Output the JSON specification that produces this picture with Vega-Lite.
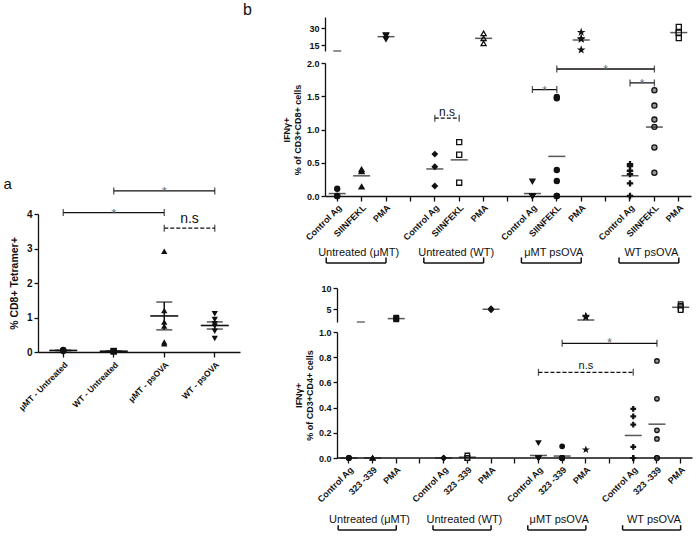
{
"$schema": "https://vega.github.io/schema/vega-lite/v6.json",
"background": "white",
"padding": {"left": 3, "top": 2, "right": 0, "bottom": 0},
"config": {
  "font": "Liberation Sans",
  "view": {"stroke": null},
  "axis": {"domainColor": "#111", "tickColor": "#111", "labelColor": "#111", "titleColor": "#111", "domainWidth": 1.3, "tickWidth": 1.3, "tickSize": 4, "grid": false, "labelFontWeight": "bold", "titleFontWeight": "bold", "labelFont": "Liberation Sans", "titleFont": "Liberation Sans", "labelOverlap": false},
  "title": {"fontWeight": "normal", "fontSize": 16, "anchor": "start", "font": "Liberation Sans", "color": "#111"}
},
"datasets": {
  "a": [
    {"grp": "μMT - Untreated", "v": 0.05}, {"grp": "μMT - Untreated", "v": 0.03}, {"grp": "μMT - Untreated", "v": 0.06}, {"grp": "μMT - Untreated", "v": 0.04},
    {"grp": "WT - Untreated", "v": 0.02}, {"grp": "WT - Untreated", "v": 0.03}, {"grp": "WT - Untreated", "v": 0.02},
    {"grp": "μMT - psOVA", "v": 2.92}, {"grp": "μMT - psOVA", "v": 1.2}, {"grp": "μMT - psOVA", "v": 0.87}, {"grp": "μMT - psOVA", "v": 0.75}, {"grp": "μMT - psOVA", "v": 0.24}, {"grp": "μMT - psOVA", "v": 0.29},
    {"grp": "WT - psOVA", "v": 1.11}, {"grp": "WT - psOVA", "v": 0.94}, {"grp": "WT - psOVA", "v": 0.82}, {"grp": "WT - psOVA", "v": 0.75}, {"grp": "WT - psOVA", "v": 0.6}, {"grp": "WT - psOVA", "v": 0.39}
  ],
  "aBr": [
    {"from": "WT - Untreated", "to": "WT - psOVA", "y": 4.67, "label": "*", "dash": "solid", "mid": "μMT - psOVA"},
    {"from": "μMT - Untreated", "to": "μMT - psOVA", "y": 4.04, "label": "*", "dash": "solid", "mid": "WT - Untreated"},
    {"from": "μMT - psOVA", "to": "WT - psOVA", "y": 3.59, "label": "n.s", "dash": "dashed"}
  ],
  "cd8": [
    {"cond": "Untreated (μMT)|Control Ag", "v": 0.11}, {"cond": "Untreated (μMT)|Control Ag", "v": 0}, {"cond": "Untreated (μMT)|Control Ag", "v": 0},
    {"cond": "Untreated (μMT)|SIINFEKL", "v": 0.4}, {"cond": "Untreated (μMT)|SIINFEKL", "v": 0.37}, {"cond": "Untreated (μMT)|SIINFEKL", "v": 0.14},
    {"cond": "Untreated (μMT)|PMA", "v": 24}, {"cond": "Untreated (μMT)|PMA", "v": 23.5}, {"cond": "Untreated (μMT)|PMA", "v": 20.5},
    {"cond": "Untreated (WT)|Control Ag", "v": 0.63}, {"cond": "Untreated (WT)|Control Ag", "v": 0.44}, {"cond": "Untreated (WT)|Control Ag", "v": 0.15},
    {"cond": "Untreated (WT)|SIINFEKL", "v": 0.81}, {"cond": "Untreated (WT)|SIINFEKL", "v": 0.62}, {"cond": "Untreated (WT)|SIINFEKL", "v": 0.2},
    {"cond": "Untreated (WT)|PMA", "v": 25.6}, {"cond": "Untreated (WT)|PMA", "v": 21.2}, {"cond": "Untreated (WT)|PMA", "v": 16.7},
    {"cond": "μMT psOVA|Control Ag", "v": 0.22}, {"cond": "μMT psOVA|Control Ag", "v": 0}, {"cond": "μMT psOVA|Control Ag", "v": 0}, {"cond": "μMT psOVA|Control Ag", "v": 0}, {"cond": "μMT psOVA|Control Ag", "v": 0}, {"cond": "μMT psOVA|Control Ag", "v": 0},
    {"cond": "μMT psOVA|SIINFEKL", "v": 1.49}, {"cond": "μMT psOVA|SIINFEKL", "v": 1.47}, {"cond": "μMT psOVA|SIINFEKL", "v": 0.39}, {"cond": "μMT psOVA|SIINFEKL", "v": 0.225}, {"cond": "μMT psOVA|SIINFEKL", "v": 0}, {"cond": "μMT psOVA|SIINFEKL", "v": 0},
    {"cond": "μMT psOVA|PMA", "v": 26.5}, {"cond": "μMT psOVA|PMA", "v": 21}, {"cond": "μMT psOVA|PMA", "v": 20.5}, {"cond": "μMT psOVA|PMA", "v": 11},
    {"cond": "WT psOVA|Control Ag", "v": 0.48}, {"cond": "WT psOVA|Control Ag", "v": 0.45}, {"cond": "WT psOVA|Control Ag", "v": 0.38}, {"cond": "WT psOVA|Control Ag", "v": 0.33}, {"cond": "WT psOVA|Control Ag", "v": 0.19}, {"cond": "WT psOVA|Control Ag", "v": 0},
    {"cond": "WT psOVA|SIINFEKL", "v": 1.59}, {"cond": "WT psOVA|SIINFEKL", "v": 1.36}, {"cond": "WT psOVA|SIINFEKL", "v": 1.15}, {"cond": "WT psOVA|SIINFEKL", "v": 1.04}, {"cond": "WT psOVA|SIINFEKL", "v": 0.73}, {"cond": "WT psOVA|SIINFEKL", "v": 0.35},
    {"cond": "WT psOVA|PMA", "v": 31.2}, {"cond": "WT psOVA|PMA", "v": 26.2}, {"cond": "WT psOVA|PMA", "v": 26.2}, {"cond": "WT psOVA|PMA", "v": 21.4}
  ],
  "cd8Br": [
    {"from": "Untreated (WT)|Control Ag", "to": "Untreated (WT)|SIINFEKL", "y": 1.17, "label": "n.s", "dash": "dashed"},
    {"from": "μMT psOVA|Control Ag", "to": "μMT psOVA|SIINFEKL", "y": 1.6, "label": "*", "dash": "solid"},
    {"from": "μMT psOVA|SIINFEKL", "to": "WT psOVA|SIINFEKL", "y": 1.91, "label": "*", "dash": "solid", "mid": "gap3"},
    {"from": "WT psOVA|Control Ag", "to": "WT psOVA|SIINFEKL", "y": 1.7, "label": "*", "dash": "solid"}
  ],
  "grp8": [
    {"group": "Untreated (μMT)", "first": "Untreated (μMT)|Control Ag", "mid": "Untreated (μMT)|SIINFEKL", "last": "Untreated (μMT)|PMA"},
    {"group": "Untreated (WT)", "first": "Untreated (WT)|Control Ag", "mid": "Untreated (WT)|SIINFEKL", "last": "Untreated (WT)|PMA"},
    {"group": "μMT psOVA", "first": "μMT psOVA|Control Ag", "mid": "μMT psOVA|SIINFEKL", "last": "μMT psOVA|PMA"},
    {"group": "WT psOVA", "first": "WT psOVA|Control Ag", "mid": "WT psOVA|SIINFEKL", "last": "WT psOVA|PMA"}
  ],
  "cd4": [
    {"cond": "Untreated (μMT)|Control Ag", "v": 0}, {"cond": "Untreated (μMT)|Control Ag", "v": 0}, {"cond": "Untreated (μMT)|Control Ag", "v": 0},
    {"cond": "Untreated (μMT)|323 -339", "v": 0}, {"cond": "Untreated (μMT)|323 -339", "v": 0}, {"cond": "Untreated (μMT)|323 -339", "v": 0},
    {"cond": "Untreated (μMT)|PMA", "v": 3.0}, {"cond": "Untreated (μMT)|PMA", "v": 2.8}, {"cond": "Untreated (μMT)|PMA", "v": 2.6},
    {"cond": "Untreated (WT)|Control Ag", "v": 0}, {"cond": "Untreated (WT)|Control Ag", "v": 0}, {"cond": "Untreated (WT)|Control Ag", "v": 0},
    {"cond": "Untreated (WT)|323 -339", "v": 0.02}, {"cond": "Untreated (WT)|323 -339", "v": 0}, {"cond": "Untreated (WT)|323 -339", "v": 0},
    {"cond": "Untreated (WT)|PMA", "v": 5.2}, {"cond": "Untreated (WT)|PMA", "v": 5.0}, {"cond": "Untreated (WT)|PMA", "v": 4.8},
    {"cond": "μMT psOVA|Control Ag", "v": 0.12}, {"cond": "μMT psOVA|Control Ag", "v": 0}, {"cond": "μMT psOVA|Control Ag", "v": 0}, {"cond": "μMT psOVA|Control Ag", "v": 0}, {"cond": "μMT psOVA|Control Ag", "v": 0}, {"cond": "μMT psOVA|Control Ag", "v": 0},
    {"cond": "μMT psOVA|323 -339", "v": 0.093}, {"cond": "μMT psOVA|323 -339", "v": 0}, {"cond": "μMT psOVA|323 -339", "v": 0}, {"cond": "μMT psOVA|323 -339", "v": 0}, {"cond": "μMT psOVA|323 -339", "v": 0}, {"cond": "μMT psOVA|323 -339", "v": 0},
    {"cond": "μMT psOVA|PMA", "v": 3.4}, {"cond": "μMT psOVA|PMA", "v": 3.3}, {"cond": "μMT psOVA|PMA", "v": 3.1}, {"cond": "μMT psOVA|PMA", "v": 0.066},
    {"cond": "WT psOVA|Control Ag", "v": 0.39}, {"cond": "WT psOVA|Control Ag", "v": 0.33}, {"cond": "WT psOVA|Control Ag", "v": 0.265}, {"cond": "WT psOVA|Control Ag", "v": 0.088}, {"cond": "WT psOVA|Control Ag", "v": 0}, {"cond": "WT psOVA|Control Ag", "v": 0},
    {"cond": "WT psOVA|323 -339", "v": 0.77}, {"cond": "WT psOVA|323 -339", "v": 0.47}, {"cond": "WT psOVA|323 -339", "v": 0.22}, {"cond": "WT psOVA|323 -339", "v": 0.151}, {"cond": "WT psOVA|323 -339", "v": 0}, {"cond": "WT psOVA|323 -339", "v": 0},
    {"cond": "WT psOVA|PMA", "v": 6.2}, {"cond": "WT psOVA|PMA", "v": 5.8}, {"cond": "WT psOVA|PMA", "v": 5.5}, {"cond": "WT psOVA|PMA", "v": 5.0}, {"cond": "WT psOVA|PMA", "v": 4.8}
  ],
  "cd4Br": [
    {"from": "μMT psOVA|323 -339", "to": "WT psOVA|323 -339", "y": 0.91, "label": "*", "dash": "solid", "mid": "gap3"},
    {"from": "μMT psOVA|Control Ag", "to": "WT psOVA|Control Ag", "y": 0.68, "label": "n.s", "dash": "dashed", "mid": "μMT psOVA|PMA"}
  ],
  "grp4": [
    {"group": "Untreated (μMT)", "first": "Untreated (μMT)|Control Ag", "mid": "Untreated (μMT)|323 -339", "last": "Untreated (μMT)|PMA"},
    {"group": "Untreated (WT)", "first": "Untreated (WT)|Control Ag", "mid": "Untreated (WT)|323 -339", "last": "Untreated (WT)|PMA"},
    {"group": "μMT psOVA", "first": "μMT psOVA|Control Ag", "mid": "μMT psOVA|323 -339", "last": "μMT psOVA|PMA"},
    {"group": "WT psOVA", "first": "WT psOVA|Control Ag", "mid": "WT psOVA|323 -339", "last": "WT psOVA|PMA"}
  ]
},
"hconcat": [
  {
    "vconcat": [
      {"width": 202, "height": 159, "data": {"values": [{"k": 0}]}, "mark": {"type": "point", "opacity": 0}, "encoding": {}},
      {
        "width": 202, "height": 138,
        "title": {"text": "a", "anchor": "start", "frame": "bounds", "fontSize": 15, "offset": -6, "dx": -6},
        "layer": [
          {"data": {"name": "a"},
           "mark": {"type": "point", "filled": true, "color": "#111", "size": 40, "opacity": 1},
           "encoding": {
             "x": {"field": "grp", "type": "nominal", "scale": {"domain": ["μMT - Untreated", "WT - Untreated", "μMT - psOVA", "WT - psOVA"], "paddingInner": 0, "paddingOuter": 0}, "axis": {"title": null, "labelAngle": -45, "labelFontSize": 8.5, "labelPadding": 3, "tickSize": 5}},
             "y": {"field": "v", "type": "quantitative", "scale": {"domain": [0, 4], "nice": false}, "axis": {"values": [0, 1, 2, 3, 4], "labelOverlap": false, "title": "% CD8+ Tetramer+", "titleFontSize": 10.5, "labelFontSize": 10, "titlePadding": 7}},
             "shape": {"field": "grp", "type": "nominal", "scale": {"domain": ["μMT - Untreated", "WT - Untreated", "μMT - psOVA", "WT - psOVA"], "range": ["circle", "square", "triangle-up", "triangle-down"]}, "legend": null}
           }},
          {"data": {"name": "a"},
           "mark": {"type": "tick", "color": "#111", "size": 28, "thickness": 1.6},
           "encoding": {"x": {"field": "grp", "type": "nominal", "title": null}, "y": {"aggregate": "mean", "field": "v", "type": "quantitative", "axis": {"values": [0, 1, 2, 3, 4], "labelOverlap": false, "title": "% CD8+ Tetramer+", "titleFontSize": 10.5, "labelFontSize": 10, "titlePadding": 7}}}},
          {"data": {"name": "a"},
           "mark": {"type": "errorbar", "extent": "stderr", "color": "#111", "thickness": 1.5, "ticks": {"size": 16, "thickness": 1.5, "color": "#111"}},
           "encoding": {"x": {"field": "grp", "type": "nominal", "title": null}, "y": {"field": "v", "type": "quantitative", "axis": {"values": [0, 1, 2, 3, 4], "labelOverlap": false, "title": "% CD8+ Tetramer+", "titleFontSize": 10.5, "labelFontSize": 10, "titlePadding": 7}}}},
          {"data": {"name": "aBr"},
           "mark": {"type": "rule", "color": "#111", "strokeWidth": 1.3},
           "encoding": {"x": {"field": "from", "type": "nominal", "bandPosition": 0.5, "title": null}, "x2": {"field": "to"}, "y": {"field": "y", "type": "quantitative", "axis": {"values": [0, 1, 2, 3, 4], "labelOverlap": false, "title": "% CD8+ Tetramer+", "titleFontSize": 10.5, "labelFontSize": 10, "titlePadding": 7}},
             "strokeDash": {"field": "dash", "type": "nominal", "scale": {"domain": ["solid", "dashed"], "range": [[1, 0], [4, 2]]}, "legend": null}}},
          {"data": {"name": "aBr"},
           "mark": {"type": "tick", "orient": "vertical", "color": "#111", "size": 7, "thickness": 1.3},
           "encoding": {"x": {"field": "from", "type": "nominal", "title": null}, "y": {"field": "y", "type": "quantitative", "axis": {"values": [0, 1, 2, 3, 4], "labelOverlap": false, "title": "% CD8+ Tetramer+", "titleFontSize": 10.5, "labelFontSize": 10, "titlePadding": 7}}}},
          {"data": {"name": "aBr"},
           "mark": {"type": "tick", "orient": "vertical", "color": "#111", "size": 7, "thickness": 1.3},
           "encoding": {"x": {"field": "to", "type": "nominal", "title": null}, "y": {"field": "y", "type": "quantitative", "axis": {"values": [0, 1, 2, 3, 4], "labelOverlap": false, "title": "% CD8+ Tetramer+", "titleFontSize": 10.5, "labelFontSize": 10, "titlePadding": 7}}}},
          {"data": {"name": "aBr"}, "transform": [{"filter": "datum.mid != null && datum.label == '*'"}],
           "mark": {"type": "text", "fontSize": 13, "color": "#666", "dy": 1},
           "encoding": {"x": {"field": "mid", "type": "nominal", "title": null}, "y": {"field": "y", "type": "quantitative", "axis": {"values": [0, 1, 2, 3, 4], "labelOverlap": false, "title": "% CD8+ Tetramer+", "titleFontSize": 10.5, "labelFontSize": 10, "titlePadding": 7}}, "text": {"field": "label"}}},
          {"data": {"name": "aBr"}, "transform": [{"filter": "datum.mid == null && datum.label == 'n.s'"}],
           "mark": {"type": "text", "fontSize": 14, "color": "#111", "dy": -9},
           "encoding": {"x": {"field": "from", "type": "nominal", "bandPosition": 1, "title": null}, "y": {"field": "y", "type": "quantitative", "axis": {"values": [0, 1, 2, 3, 4], "labelOverlap": false, "title": "% CD8+ Tetramer+", "titleFontSize": 10.5, "labelFontSize": 10, "titlePadding": 7}}, "text": {"field": "label"}}}
        ]
      }
    ],
    "spacing": 0,
    "resolve": {"scale": {"x": "independent", "y": "independent", "shape": "independent", "strokeDash": "independent"}}
  },
  {
    "width": 36, "height": 10,
    "title": {"text": "b", "anchor": "start", "fontSize": 16, "offset": -1},
    "data": {"values": [{"k": 0}]}, "mark": {"type": "point", "opacity": 0}, "encoding": {}
  },
  {
    "vconcat": [
      {
        "vconcat": [
          {
            "width": 366, "height": 34,
            "layer": [
              {"data": {"name": "cd8"}, "transform": [{"filter": "datum.v > 2"}],
               "mark": {"type": "point", "filled": true, "stroke": "#111", "strokeWidth": 1.3, "opacity": 1},
               "encoding": {
                 "x": {"field": "cond", "type": "nominal", "scale": {"domain": ["Untreated (μMT)|Control Ag", "Untreated (μMT)|SIINFEKL", "Untreated (μMT)|PMA", "gap1", "Untreated (WT)|Control Ag", "Untreated (WT)|SIINFEKL", "Untreated (WT)|PMA", "gap2", "μMT psOVA|Control Ag", "μMT psOVA|SIINFEKL", "μMT psOVA|PMA", "gap3", "WT psOVA|Control Ag", "WT psOVA|SIINFEKL", "WT psOVA|PMA"], "paddingInner": 0, "paddingOuter": 0}, "axis": null},
                 "y": {"field": "v", "type": "quantitative", "scale": {"domain": [10, 40], "nice": false, "zero": false}, "axis": {"values": [15, 30], "labelOverlap": false, "title": null, "labelFontSize": 9}},
                 "shape": {"field": "cond", "type": "nominal", "scale": {"domain": ["Untreated (μMT)|Control Ag", "Untreated (μMT)|SIINFEKL", "Untreated (μMT)|PMA", "Untreated (WT)|Control Ag", "Untreated (WT)|SIINFEKL", "Untreated (WT)|PMA", "μMT psOVA|Control Ag", "μMT psOVA|SIINFEKL", "μMT psOVA|PMA", "WT psOVA|Control Ag", "WT psOVA|SIINFEKL", "WT psOVA|PMA"], "range": ["circle", "triangle-up", "triangle-down", "diamond", "square", "triangle-up", "triangle-down", "circle", "M0,-1L0.235,-0.324L0.951,-0.309L0.38,0.124L0.588,0.809L0,0.4L-0.588,0.809L-0.38,0.124L-0.951,-0.309L-0.235,-0.324Z", "M-1,-0.2H1V0.2H-1Z M-0.2,-1H0.2V1H-0.2Z", "circle", "square"]}, "legend": null},
                 "fill": {"field": "cond", "type": "nominal", "scale": {"domain": ["Untreated (μMT)|Control Ag", "Untreated (μMT)|SIINFEKL", "Untreated (μMT)|PMA", "Untreated (WT)|Control Ag", "Untreated (WT)|SIINFEKL", "Untreated (WT)|PMA", "μMT psOVA|Control Ag", "μMT psOVA|SIINFEKL", "μMT psOVA|PMA", "WT psOVA|Control Ag", "WT psOVA|SIINFEKL", "WT psOVA|PMA"], "range": ["#111", "#111", "#111", "#111", "white", "white", "#111", "#111", "#111", "#111", "#999", "white"]}, "legend": null},
                 "size": {"field": "cond", "type": "nominal", "scale": {"domain": ["Untreated (μMT)|Control Ag", "Untreated (μMT)|SIINFEKL", "Untreated (μMT)|PMA", "Untreated (WT)|Control Ag", "Untreated (WT)|SIINFEKL", "Untreated (WT)|PMA", "μMT psOVA|Control Ag", "μMT psOVA|SIINFEKL", "μMT psOVA|PMA", "WT psOVA|Control Ag", "WT psOVA|SIINFEKL", "WT psOVA|PMA"], "range": [26, 26, 30, 30, 26, 30, 30, 30, 22, 42, 28, 26]}, "legend": null}
               }},
              {"data": {"name": "cd8"}, "transform": [{"aggregate": [{"op": "mean", "field": "v", "as": "m"}], "groupby": ["cond"]}, {"filter": "datum.m > 2"}],
               "mark": {"type": "tick", "color": "#111", "size": 17, "thickness": 1.5},
               "encoding": {"x": {"field": "cond", "type": "nominal", "axis": null}, "y": {"field": "m", "type": "quantitative", "title": null}}},
              {"data": {"values": [{"k": 0}]},
               "mark": {"type": "tick", "color": "#111", "size": 8, "thickness": 1.3},
               "encoding": {"x": {"datum": "Untreated (μMT)|Control Ag", "type": "nominal", "bandPosition": 0, "axis": null}, "y": {"datum": 10, "type": "quantitative", "title": null}}}
            ]
          },
          {
            "width": 366, "height": 133,
            "layer": [
              {"data": {"name": "cd8"}, "transform": [{"filter": "datum.v <= 2"}],
               "mark": {"type": "point", "filled": true, "stroke": "#111", "strokeWidth": 1.3, "opacity": 1},
               "encoding": {
                 "x": {"field": "cond", "type": "nominal", "scale": {"domain": ["Untreated (μMT)|Control Ag", "Untreated (μMT)|SIINFEKL", "Untreated (μMT)|PMA", "gap1", "Untreated (WT)|Control Ag", "Untreated (WT)|SIINFEKL", "Untreated (WT)|PMA", "gap2", "μMT psOVA|Control Ag", "μMT psOVA|SIINFEKL", "μMT psOVA|PMA", "gap3", "WT psOVA|Control Ag", "WT psOVA|SIINFEKL", "WT psOVA|PMA"], "paddingInner": 0, "paddingOuter": 0},
                       "axis": {"title": null, "labelAngle": -45, "labelExpr": "indexof(datum.value, '|') >= 0 ? split(datum.value, '|')[1] : ''", "labelFontSize": 9, "labelPadding": 2, "tickSize": 5}},
                 "y": {"field": "v", "type": "quantitative", "scale": {"domain": [0, 2], "nice": false}, "axis": {"tickCount": 4, "labelOverlap": false, "format": ".1f", "title": ["IFNγ+", "% of CD3+CD8+ cells"], "titleFontSize": 9, "labelFontSize": 9, "titlePadding": 4, "titleLineHeight": 11}},
                 "shape": {"field": "cond", "type": "nominal", "scale": {"domain": ["Untreated (μMT)|Control Ag", "Untreated (μMT)|SIINFEKL", "Untreated (μMT)|PMA", "Untreated (WT)|Control Ag", "Untreated (WT)|SIINFEKL", "Untreated (WT)|PMA", "μMT psOVA|Control Ag", "μMT psOVA|SIINFEKL", "μMT psOVA|PMA", "WT psOVA|Control Ag", "WT psOVA|SIINFEKL", "WT psOVA|PMA"], "range": ["circle", "triangle-up", "triangle-down", "diamond", "square", "triangle-up", "triangle-down", "circle", "M0,-1L0.235,-0.324L0.951,-0.309L0.38,0.124L0.588,0.809L0,0.4L-0.588,0.809L-0.38,0.124L-0.951,-0.309L-0.235,-0.324Z", "M-1,-0.2H1V0.2H-1Z M-0.2,-1H0.2V1H-0.2Z", "circle", "square"]}, "legend": null},
                 "fill": {"field": "cond", "type": "nominal", "scale": {"domain": ["Untreated (μMT)|Control Ag", "Untreated (μMT)|SIINFEKL", "Untreated (μMT)|PMA", "Untreated (WT)|Control Ag", "Untreated (WT)|SIINFEKL", "Untreated (WT)|PMA", "μMT psOVA|Control Ag", "μMT psOVA|SIINFEKL", "μMT psOVA|PMA", "WT psOVA|Control Ag", "WT psOVA|SIINFEKL", "WT psOVA|PMA"], "range": ["#111", "#111", "#111", "#111", "white", "white", "#111", "#111", "#111", "#111", "#999", "white"]}, "legend": null},
                 "size": {"field": "cond", "type": "nominal", "scale": {"domain": ["Untreated (μMT)|Control Ag", "Untreated (μMT)|SIINFEKL", "Untreated (μMT)|PMA", "Untreated (WT)|Control Ag", "Untreated (WT)|SIINFEKL", "Untreated (WT)|PMA", "μMT psOVA|Control Ag", "μMT psOVA|SIINFEKL", "μMT psOVA|PMA", "WT psOVA|Control Ag", "WT psOVA|SIINFEKL", "WT psOVA|PMA"], "range": [26, 26, 30, 30, 26, 30, 30, 30, 22, 42, 28, 26]}, "legend": null}
               }},
              {"data": {"name": "cd8"}, "transform": [{"aggregate": [{"op": "mean", "field": "v", "as": "m"}], "groupby": ["cond"]}, {"filter": "datum.m <= 2"}],
               "mark": {"type": "tick", "color": "#111", "size": 17, "thickness": 1.5},
               "encoding": {"x": {"field": "cond", "type": "nominal", "title": null}, "y": {"field": "m", "type": "quantitative", "title": ["IFNγ+", "% of CD3+CD8+ cells"]}}},
              {"data": {"name": "cd8Br"},
               "mark": {"type": "rule", "color": "#111", "strokeWidth": 1.3},
               "encoding": {"x": {"field": "from", "type": "nominal", "bandPosition": 0.5, "title": null}, "x2": {"field": "to"}, "y": {"field": "y", "type": "quantitative", "title": ["IFNγ+", "% of CD3+CD8+ cells"]},
                 "strokeDash": {"field": "dash", "type": "nominal", "scale": {"domain": ["solid", "dashed"], "range": [[1, 0], [4, 2]]}, "legend": null}}},
              {"data": {"name": "cd8Br"},
               "mark": {"type": "tick", "orient": "vertical", "color": "#111", "size": 7, "thickness": 1.3},
               "encoding": {"x": {"field": "from", "type": "nominal", "title": null}, "y": {"field": "y", "type": "quantitative", "title": ["IFNγ+", "% of CD3+CD8+ cells"]}}},
              {"data": {"name": "cd8Br"},
               "mark": {"type": "tick", "orient": "vertical", "color": "#111", "size": 7, "thickness": 1.3},
               "encoding": {"x": {"field": "to", "type": "nominal", "title": null}, "y": {"field": "y", "type": "quantitative", "title": ["IFNγ+", "% of CD3+CD8+ cells"]}}},
              {"data": {"name": "cd8Br"}, "transform": [{"filter": "datum.mid != null && datum.label == '*'"}],
               "mark": {"type": "text", "fontSize": 12, "color": "#666", "dy": 1},
               "encoding": {"x": {"field": "mid", "type": "nominal", "title": null}, "y": {"field": "y", "type": "quantitative", "title": ["IFNγ+", "% of CD3+CD8+ cells"]}, "text": {"field": "label"}}},
              {"data": {"name": "cd8Br"}, "transform": [{"filter": "datum.mid == null && datum.label == '*'"}],
               "mark": {"type": "text", "fontSize": 12, "color": "#666", "dy": 1},
               "encoding": {"x": {"field": "from", "type": "nominal", "bandPosition": 1, "title": null}, "y": {"field": "y", "type": "quantitative", "title": ["IFNγ+", "% of CD3+CD8+ cells"]}, "text": {"field": "label"}}},
              {"data": {"name": "cd8Br"}, "transform": [{"filter": "datum.mid == null && datum.label == 'n.s'"}],
               "mark": {"type": "text", "fontSize": 12, "color": "#111", "dy": -6},
               "encoding": {"x": {"field": "from", "type": "nominal", "bandPosition": 1, "title": null}, "y": {"field": "y", "type": "quantitative", "title": ["IFNγ+", "% of CD3+CD8+ cells"]}, "text": {"field": "label"}}}
            ]
          },
          {
            "width": 366, "height": 16,
            "data": {"name": "grp8"},
            "layer": [
              {"mark": {"type": "text", "baseline": "top", "fontSize": 11, "color": "#111", "dx": -3},
               "encoding": {"x": {"field": "mid", "type": "nominal", "scale": {"domain": ["Untreated (μMT)|Control Ag", "Untreated (μMT)|SIINFEKL", "Untreated (μMT)|PMA", "gap1", "Untreated (WT)|Control Ag", "Untreated (WT)|SIINFEKL", "Untreated (WT)|PMA", "gap2", "μMT psOVA|Control Ag", "μMT psOVA|SIINFEKL", "μMT psOVA|PMA", "gap3", "WT psOVA|Control Ag", "WT psOVA|SIINFEKL", "WT psOVA|PMA"], "paddingInner": 0, "paddingOuter": 0}, "axis": null},
                 "y": {"datum": 1, "type": "quantitative", "scale": {"domain": [0, 1], "nice": false}, "axis": null},
                 "text": {"field": "group"}}},
              {"mark": {"type": "rule", "color": "#111", "strokeWidth": 1.5},
               "encoding": {"x": {"field": "first", "type": "nominal", "bandPosition": 0.05, "axis": null}, "x2": {"field": "last"}, "y": {"datum": 0, "type": "quantitative", "axis": null}}},
              {"mark": {"type": "rule", "color": "#111", "strokeWidth": 1.5},
               "encoding": {"x": {"field": "first", "type": "nominal", "bandPosition": 0.05, "axis": null}, "y": {"datum": 0, "type": "quantitative", "axis": null}, "y2": {"datum": 0.35}}},
              {"mark": {"type": "rule", "color": "#111", "strokeWidth": 1.5},
               "encoding": {"x": {"field": "last", "type": "nominal", "axis": null}, "y": {"datum": 0, "type": "quantitative", "axis": null}, "y2": {"datum": 0.35}}}
            ]
          }
        ],
        "spacing": 4,
        "resolve": {"scale": {"x": "independent", "y": "independent", "shape": "independent", "fill": "independent", "size": "independent", "strokeDash": "independent"}}
      },
      {
        "vconcat": [
          {
            "width": 368, "height": 34,
            "layer": [
              {"data": {"name": "cd4"}, "transform": [{"filter": "datum.v > 1"}],
               "mark": {"type": "point", "filled": true, "stroke": "#111", "strokeWidth": 1.3, "opacity": 1},
               "encoding": {
                 "x": {"field": "cond", "type": "nominal", "scale": {"domain": ["Untreated (μMT)|Control Ag", "Untreated (μMT)|323 -339", "Untreated (μMT)|PMA", "gap1", "Untreated (WT)|Control Ag", "Untreated (WT)|323 -339", "Untreated (WT)|PMA", "gap2", "μMT psOVA|Control Ag", "μMT psOVA|323 -339", "μMT psOVA|PMA", "gap3", "WT psOVA|Control Ag", "WT psOVA|323 -339", "WT psOVA|PMA"], "paddingInner": 0, "paddingOuter": 0.264, "align": 0.96}, "axis": null},
                 "y": {"field": "v", "type": "quantitative", "scale": {"domain": [2, 10], "nice": false, "zero": false}, "axis": {"values": [5, 10], "labelOverlap": false, "title": null, "labelFontSize": 9, "offset": -12}},
                 "shape": {"field": "cond", "type": "nominal", "scale": {"domain": ["Untreated (μMT)|Control Ag", "Untreated (μMT)|323 -339", "Untreated (μMT)|PMA", "Untreated (WT)|Control Ag", "Untreated (WT)|323 -339", "Untreated (WT)|PMA", "μMT psOVA|Control Ag", "μMT psOVA|323 -339", "μMT psOVA|PMA", "WT psOVA|Control Ag", "WT psOVA|323 -339", "WT psOVA|PMA"], "range": ["circle", "triangle-up", "square", "diamond", "square", "diamond", "triangle-down", "circle", "M0,-1L0.235,-0.324L0.951,-0.309L0.38,0.124L0.588,0.809L0,0.4L-0.588,0.809L-0.38,0.124L-0.951,-0.309L-0.235,-0.324Z", "M-1,-0.2H1V0.2H-1Z M-0.2,-1H0.2V1H-0.2Z", "circle", "square"]}, "legend": null},
                 "fill": {"field": "cond", "type": "nominal", "scale": {"domain": ["Untreated (μMT)|Control Ag", "Untreated (μMT)|323 -339", "Untreated (μMT)|PMA", "Untreated (WT)|Control Ag", "Untreated (WT)|323 -339", "Untreated (WT)|PMA", "μMT psOVA|Control Ag", "μMT psOVA|323 -339", "μMT psOVA|PMA", "WT psOVA|Control Ag", "WT psOVA|323 -339", "WT psOVA|PMA"], "range": ["#111", "#111", "#111", "#111", "white", "#111", "#111", "#111", "#111", "#111", "#999", "white"]}, "legend": null},
                 "size": {"field": "cond", "type": "nominal", "scale": {"domain": ["Untreated (μMT)|Control Ag", "Untreated (μMT)|323 -339", "Untreated (μMT)|PMA", "Untreated (WT)|Control Ag", "Untreated (WT)|323 -339", "Untreated (WT)|PMA", "μMT psOVA|Control Ag", "μMT psOVA|323 -339", "μMT psOVA|PMA", "WT psOVA|Control Ag", "WT psOVA|323 -339", "WT psOVA|PMA"], "range": [20, 20, 26, 24, 22, 30, 30, 30, 20, 42, 28, 26]}, "legend": null}
               }},
              {"data": {"name": "cd4"}, "transform": [{"aggregate": [{"op": "mean", "field": "v", "as": "m"}], "groupby": ["cond"]}, {"filter": "datum.m > 1"}],
               "mark": {"type": "tick", "color": "#111", "size": 17, "thickness": 1.5},
               "encoding": {"x": {"field": "cond", "type": "nominal", "axis": null}, "y": {"field": "m", "type": "quantitative", "axis": {"values": [5, 10], "labelOverlap": false, "title": null, "labelFontSize": 9, "offset": -12}}}},
              {"data": {"values": [{"k": 0}]},
               "mark": {"type": "tick", "color": "#111", "size": 8, "thickness": 1.3, "xOffset": 12},
               "encoding": {"x": {"datum": "Untreated (μMT)|Control Ag", "type": "nominal", "bandPosition": 0, "axis": null}, "y": {"datum": 2, "type": "quantitative", "axis": {"values": [5, 10], "labelOverlap": false, "title": null, "labelFontSize": 9, "offset": -12}}}}
            ]
          },
          {
            "width": 368, "height": 126,
            "layer": [
              {"data": {"name": "cd4"}, "transform": [{"filter": "datum.v <= 1"}],
               "mark": {"type": "point", "filled": true, "stroke": "#111", "strokeWidth": 1.3, "opacity": 1},
               "encoding": {
                 "x": {"field": "cond", "type": "nominal", "scale": {"domain": ["Untreated (μMT)|Control Ag", "Untreated (μMT)|323 -339", "Untreated (μMT)|PMA", "gap1", "Untreated (WT)|Control Ag", "Untreated (WT)|323 -339", "Untreated (WT)|PMA", "gap2", "μMT psOVA|Control Ag", "μMT psOVA|323 -339", "μMT psOVA|PMA", "gap3", "WT psOVA|Control Ag", "WT psOVA|323 -339", "WT psOVA|PMA"], "paddingInner": 0, "paddingOuter": 0.264, "align": 0.96},
                       "axis": {"title": null, "domain": false, "labelAngle": -45, "labelExpr": "indexof(datum.value, '|') >= 0 ? split(datum.value, '|')[1] : ''", "labelFontSize": 9, "labelPadding": 2, "tickSize": 5}},
                 "y": {"field": "v", "type": "quantitative", "scale": {"domain": [0, 1], "nice": false}, "axis": {"tickCount": 5, "labelOverlap": false, "format": ".1f", "title": ["IFNγ+", "% of CD3+CD4+ cells"], "titleFontSize": 9, "labelFontSize": 9, "titlePadding": 4, "titleLineHeight": 11, "offset": -12}},
                 "shape": {"field": "cond", "type": "nominal", "scale": {"domain": ["Untreated (μMT)|Control Ag", "Untreated (μMT)|323 -339", "Untreated (μMT)|PMA", "Untreated (WT)|Control Ag", "Untreated (WT)|323 -339", "Untreated (WT)|PMA", "μMT psOVA|Control Ag", "μMT psOVA|323 -339", "μMT psOVA|PMA", "WT psOVA|Control Ag", "WT psOVA|323 -339", "WT psOVA|PMA"], "range": ["circle", "triangle-up", "square", "diamond", "square", "diamond", "triangle-down", "circle", "M0,-1L0.235,-0.324L0.951,-0.309L0.38,0.124L0.588,0.809L0,0.4L-0.588,0.809L-0.38,0.124L-0.951,-0.309L-0.235,-0.324Z", "M-1,-0.2H1V0.2H-1Z M-0.2,-1H0.2V1H-0.2Z", "circle", "square"]}, "legend": null},
                 "fill": {"field": "cond", "type": "nominal", "scale": {"domain": ["Untreated (μMT)|Control Ag", "Untreated (μMT)|323 -339", "Untreated (μMT)|PMA", "Untreated (WT)|Control Ag", "Untreated (WT)|323 -339", "Untreated (WT)|PMA", "μMT psOVA|Control Ag", "μMT psOVA|323 -339", "μMT psOVA|PMA", "WT psOVA|Control Ag", "WT psOVA|323 -339", "WT psOVA|PMA"], "range": ["#111", "#111", "#111", "#111", "white", "#111", "#111", "#111", "#111", "#111", "#999", "white"]}, "legend": null},
                 "size": {"field": "cond", "type": "nominal", "scale": {"domain": ["Untreated (μMT)|Control Ag", "Untreated (μMT)|323 -339", "Untreated (μMT)|PMA", "Untreated (WT)|Control Ag", "Untreated (WT)|323 -339", "Untreated (WT)|PMA", "μMT psOVA|Control Ag", "μMT psOVA|323 -339", "μMT psOVA|PMA", "WT psOVA|Control Ag", "WT psOVA|323 -339", "WT psOVA|PMA"], "range": [20, 20, 26, 24, 22, 30, 30, 30, 20, 42, 28, 26]}, "legend": null}
               }},
              {"data": {"values": [{"k": 0}]},
               "mark": {"type": "rule", "color": "#111", "strokeWidth": 1.3},
               "encoding": {"x": {"datum": "Untreated (μMT)|Control Ag", "type": "nominal", "bandPosition": 0, "title": null}, "x2": {"datum": "WT psOVA|PMA", "bandPosition": 1}, "y": {"datum": 0, "type": "quantitative", "title": ["IFNγ+", "% of CD3+CD4+ cells"]}}},
              {"data": {"name": "cd4"}, "transform": [{"aggregate": [{"op": "mean", "field": "v", "as": "m"}], "groupby": ["cond"]}, {"filter": "datum.m <= 1"}],
               "mark": {"type": "tick", "color": "#111", "size": 17, "thickness": 1.5},
               "encoding": {"x": {"field": "cond", "type": "nominal", "title": null}, "y": {"field": "m", "type": "quantitative", "title": ["IFNγ+", "% of CD3+CD4+ cells"]}}},
              {"data": {"name": "cd4Br"},
               "mark": {"type": "rule", "color": "#111", "strokeWidth": 1.3},
               "encoding": {"x": {"field": "from", "type": "nominal", "bandPosition": 0.5, "title": null}, "x2": {"field": "to"}, "y": {"field": "y", "type": "quantitative", "title": ["IFNγ+", "% of CD3+CD4+ cells"]},
                 "strokeDash": {"field": "dash", "type": "nominal", "scale": {"domain": ["solid", "dashed"], "range": [[1, 0], [4, 2]]}, "legend": null}}},
              {"data": {"name": "cd4Br"},
               "mark": {"type": "tick", "orient": "vertical", "color": "#111", "size": 7, "thickness": 1.3},
               "encoding": {"x": {"field": "from", "type": "nominal", "title": null}, "y": {"field": "y", "type": "quantitative", "title": ["IFNγ+", "% of CD3+CD4+ cells"]}}},
              {"data": {"name": "cd4Br"},
               "mark": {"type": "tick", "orient": "vertical", "color": "#111", "size": 7, "thickness": 1.3},
               "encoding": {"x": {"field": "to", "type": "nominal", "title": null}, "y": {"field": "y", "type": "quantitative", "title": ["IFNγ+", "% of CD3+CD4+ cells"]}}},
              {"data": {"name": "cd4Br"}, "transform": [{"filter": "datum.label == '*'"}],
               "mark": {"type": "text", "fontSize": 12, "color": "#666", "dy": 0},
               "encoding": {"x": {"field": "mid", "type": "nominal", "title": null}, "y": {"field": "y", "type": "quantitative", "title": ["IFNγ+", "% of CD3+CD4+ cells"]}, "text": {"field": "label"}}},
              {"data": {"name": "cd4Br"}, "transform": [{"filter": "datum.label == 'n.s'"}],
               "mark": {"type": "text", "fontSize": 11, "color": "#111", "dy": -6},
               "encoding": {"x": {"field": "mid", "type": "nominal", "title": null}, "y": {"field": "y", "type": "quantitative", "title": ["IFNγ+", "% of CD3+CD4+ cells"]}, "text": {"field": "label"}}}
            ]
          },
          {
            "width": 368, "height": 22,
            "data": {"name": "grp4"},
            "layer": [
              {"mark": {"type": "text", "baseline": "top", "fontSize": 11, "color": "#111", "dx": -3},
               "encoding": {"x": {"field": "mid", "type": "nominal", "scale": {"domain": ["Untreated (μMT)|Control Ag", "Untreated (μMT)|323 -339", "Untreated (μMT)|PMA", "gap1", "Untreated (WT)|Control Ag", "Untreated (WT)|323 -339", "Untreated (WT)|PMA", "gap2", "μMT psOVA|Control Ag", "μMT psOVA|323 -339", "μMT psOVA|PMA", "gap3", "WT psOVA|Control Ag", "WT psOVA|323 -339", "WT psOVA|PMA"], "paddingInner": 0, "paddingOuter": 0.264, "align": 0.96}, "axis": null},
                 "y": {"datum": 1, "type": "quantitative", "scale": {"domain": [0, 1.375], "nice": false}, "axis": null},
                 "text": {"field": "group"}}},
              {"mark": {"type": "rule", "color": "#111", "strokeWidth": 1.5},
               "encoding": {"x": {"field": "first", "type": "nominal", "bandPosition": 0.05, "axis": null}, "x2": {"field": "last"}, "y": {"datum": 0, "type": "quantitative", "axis": null}}},
              {"mark": {"type": "rule", "color": "#111", "strokeWidth": 1.5},
               "encoding": {"x": {"field": "first", "type": "nominal", "bandPosition": 0.05, "axis": null}, "y": {"datum": 0, "type": "quantitative", "axis": null}, "y2": {"datum": 0.3}}},
              {"mark": {"type": "rule", "color": "#111", "strokeWidth": 1.5},
               "encoding": {"x": {"field": "last", "type": "nominal", "axis": null}, "y": {"datum": 0, "type": "quantitative", "axis": null}, "y2": {"datum": 0.3}}}
            ]
          }
        ],
        "spacing": 3,
        "resolve": {"scale": {"x": "independent", "y": "independent", "shape": "independent", "fill": "independent", "size": "independent", "strokeDash": "independent"}}
      }
    ],
    "spacing": 20,
    "resolve": {"scale": {"x": "independent", "y": "independent", "shape": "independent", "fill": "independent", "size": "independent", "strokeDash": "independent"}}
  }
],
"spacing": 3,
"resolve": {"scale": {"x": "independent", "y": "independent", "shape": "independent", "fill": "independent", "size": "independent", "strokeDash": "independent"}}
}
